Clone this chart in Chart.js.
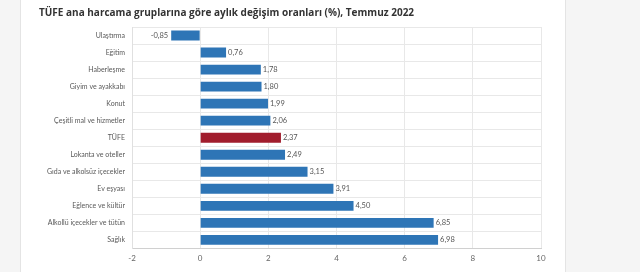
<!DOCTYPE html>
<html>
<head>
<meta charset="utf-8">
<script src="https://cdn.jsdelivr.net/npm/chart.js@4/dist/chart.umd.min.js"></script>
<style>
    html, body { margin: 0; padding: 0; }
    body {
        width: 640px; height: 272px; overflow: hidden;
        background: #f5f5f5;
        position: relative;
    }
    #panel {
        position: absolute; left: 20px; top: 0;
        width: 546px; height: 272px;
        background: #fff;
        border-left: 1px solid #e4e4e4;
        border-right: 1px solid #e4e4e4;
        box-sizing: border-box;
    }
</style>
</head>
<body>
<div id="panel"><canvas id="chart" width="544" height="272"></canvas></div>
<script>
// Data
const categories = [
    'Ulaştırma', 'Eğitim', 'Haberleşme', 'Giyim ve ayakkabı', 'Konut',
    'Çeşitli mal ve hizmetler', 'TÜFE', 'Lokanta ve oteller',
    'Gıda ve alkolsüz içecekler', 'Ev eşyası', 'Eğlence ve kültür',
    'Alkollü içecekler ve tütün', 'Sağlık'
];
const values = [-0.85, 0.76, 1.78, 1.80, 1.99, 2.06, 2.37, 2.49, 3.15, 3.91, 4.50, 6.85, 6.98];
const xTicks = [-2, 0, 2, 4, 6, 8, 10];

const blue = '#2e75b6';
const red = '#a11d2d';
const colors = categories.map(c => c === 'TÜFE' ? red : blue);

// Value labels at bar ends
const valueLabels = {
    id: 'valueLabels',
    afterDatasetsDraw(chart) {
        const ctx = chart.ctx;
        const meta = chart.getDatasetMeta(0);
        ctx.save();
        ctx.font = '7.5px Lato, sans-serif';
        ctx.fillStyle = '#555';
        ctx.textBaseline = 'middle';
        meta.data.forEach((bar, i) => {
            const v = values[i];
            const txt = v.toFixed(2).replace('.', ',');
            if (v < 0) {
                ctx.textAlign = 'right';
                ctx.fillText(txt, bar.x - 3, bar.y);
            } else {
                ctx.textAlign = 'left';
                ctx.fillText(txt, bar.x + 2, bar.y);
            }
        });
        ctx.restore();
    }
};

const ctx = document.getElementById('chart').getContext('2d');
new Chart(ctx, {
    type: 'bar',
    data: {
        labels: categories,
        datasets: [{
            data: values,
            backgroundColor: colors,
            barPercentage: 0.58,
            categoryPercentage: 1.0
        }]
    },
    options: {
        indexAxis: 'y',
        responsive: false,
        animation: false,
        layout: { padding: { left: 18, right: 24, top: 0, bottom: 4 } },
        plugins: {
            legend: { display: false },
            tooltip: { enabled: false },
            title: {
                display: true,
                align: 'start',
                text: 'TÜFE ana harcama gruplarına göre aylık değişim oranları (%), Temmuz 2022',
                color: '#333',
                font: { family: '"Open Sans", sans-serif', size: 10, weight: 'bold' },
                padding: { top: 7, bottom: 8 }
            }
        },
        scales: {
            x: {
                min: xTicks[0],
                max: xTicks[xTicks.length - 1],
                afterBuildTicks: axis => { axis.ticks = xTicks.map(v => ({ value: v })); },
                grid: { color: '#e8e8e8', drawTicks: false },
                border: { color: '#d0d0d0' },
                ticks: {
                    color: '#666',
                    padding: 5,
                    font: { family: 'Lato, sans-serif', size: 8 }
                }
            },
            y: {
                afterFit: axis => { axis.width = 93; },
                grid: { color: '#e8e8e8', drawTicks: false },
                border: { color: '#e0e0e0' },
                ticks: {
                    color: '#595959',
                    padding: 7,
                    font: { family: 'Lato, sans-serif', size: 7 }
                }
            }
        }
    },
    plugins: [valueLabels]
});
</script>
</body>
</html>
